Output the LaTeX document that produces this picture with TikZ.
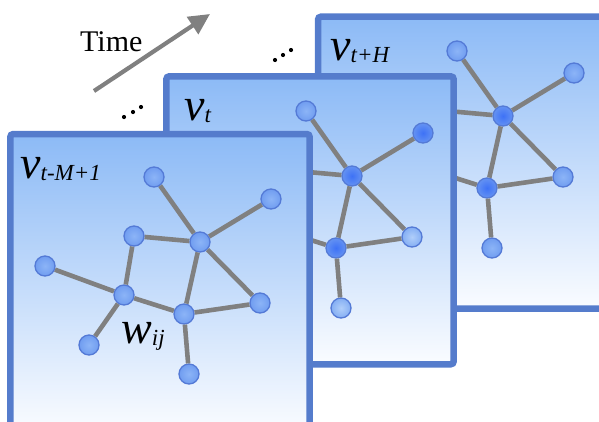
\documentclass[tikz,border=0pt]{standalone}
\usepackage{fontspec}
\setmainfont{Liberation Serif}
\usetikzlibrary{arrows.meta}

\definecolor{panTop}{RGB}{140,186,246}
\definecolor{panBot}{RGB}{250,252,255}
\definecolor{panEdge}{RGB}{85,124,204}
\definecolor{linkGray}{RGB}{128,128,128}
\definecolor{dotEdge}{RGB}{84,122,214}
\definecolor{leafIn}{RGB}{140,180,247}
\definecolor{leafOut}{RGB}{112,157,240}
\definecolor{hubIn}{RGB}{62,114,246}
\definecolor{hubOut}{RGB}{100,146,242}
\definecolor{paleIn}{RGB}{176,206,250}
\definecolor{paleOut}{RGB}{132,174,243}

\begin{document}
\begin{tikzpicture}[x=1pt,y=-1pt,
  panel/.style={draw=panEdge,line width=6.5pt,rounded corners=3pt,top color=panTop,bottom color=panBot},
  link/.style={draw=linkGray,line width=4.6pt},
  leaf/.style={circle,draw=dotEdge,line width=1.3pt,minimum size=20pt,inner sep=0pt,inner color=leafIn,outer color=leafOut},
  hub/.style={leaf,inner color=hubIn,outer color=hubOut},
  pale/.style={leaf,inner color=paleIn,outer color=paleOut},
  lbl/.style={font=\fontsize{46}{46}\selectfont\itshape,inner sep=0pt,anchor=base west}]
\useasboundingbox (0,0) rectangle (599,421);
\clip (0,0) rectangle (599,421);

% time arrow
\coordinate (tfrom) at (94,91);
\coordinate (tto) at (210,14);
\draw[linkGray,line width=4.2pt,-{Triangle[length=21pt,width=20pt]}] (tfrom) -- (tto);
\node[font=\fontsize{30}{30}\selectfont,inner sep=0pt,anchor=base west] (time) at (80,51) {Time};
\fill (124,117) circle (2.1);
\fill (133,112) circle (2.1);
\fill (141,107) circle (2.1);
\fill (275,60) circle (2.1);
\fill (283,55) circle (2.1);
\fill (291,50) circle (2.1);

% back panel
\draw[panel] (318,16.7) rectangle (640,308.7);
\begin{scope}[name prefix=bk-]
\node[leaf] (n1) at (457,51) {};
\node[leaf] (n2) at (574,73) {};
\node[hub] (A) at (503,116) {};
\node[leaf] (n3) at (437,110) {};
\node[leaf] (n4) at (348,140) {};
\node[leaf] (B) at (427,169) {};
\node[hub] (C) at (487,188) {};
\node[leaf] (n5) at (563,177) {};
\node[leaf] (n6) at (392,219) {};
\node[leaf] (n7) at (492,248) {};
\draw[link] (n1) -- (A);
\draw[link] (n2) -- (A);
\draw[link] (n3) -- (A);
\draw[link] (A) -- (C);
\draw[link] (A) -- (n5);
\draw[link] (n3) -- (B);
\draw[link] (n4) -- (B);
\draw[link] (B) -- (C);
\draw[link] (B) -- (n6);
\draw[link] (C) -- (n5);
\draw[link] (C) -- (n7);
\end{scope}
\node[lbl] (vback) at (330,60) {v\raisebox{-2pt}{\fontsize{23}{23}\selectfont t+H}};

% middle panel
\draw[panel] (166.3,76.3) rectangle (453.7,364.3);
\begin{scope}[name prefix=md-]
\node[leaf] (n1) at (306,111) {};
\node[hub] (n2) at (423,133) {};
\node[hub] (A) at (352,176) {};
\node[leaf] (n3) at (286,170) {};
\node[leaf] (n4) at (197,200) {};
\node[leaf] (B) at (276,229) {};
\node[hub] (C) at (336,248) {};
\node[pale] (n5) at (412,237) {};
\node[leaf] (n6) at (241,279) {};
\node[pale] (n7) at (341,308) {};
\draw[link] (n1) -- (A);
\draw[link] (n2) -- (A);
\draw[link] (n3) -- (A);
\draw[link] (A) -- (C);
\draw[link] (A) -- (n5);
\draw[link] (n3) -- (B);
\draw[link] (n4) -- (B);
\draw[link] (B) -- (C);
\draw[link] (B) -- (n6);
\draw[link] (C) -- (n5);
\draw[link] (C) -- (n7);
\end{scope}
\node[lbl] (vmid) at (184,120) {v\raisebox{-2pt}{\fontsize{23}{23}\selectfont t}};

% front panel
\draw[panel] (10.3,134) rectangle (309.7,432);
\begin{scope}[name prefix=fr-]
\node[leaf] (n1) at (154,177) {};
\node[leaf] (n2) at (271,199) {};
\node[leaf] (A) at (200,242) {};
\node[leaf] (n3) at (134,236) {};
\node[leaf] (n4) at (45,266) {};
\node[leaf] (B) at (124,295) {};
\node[leaf] (C) at (184,314) {};
\node[leaf] (n5) at (260,303) {};
\node[leaf] (n6) at (89,345) {};
\node[leaf] (n7) at (189,374) {};
\draw[link] (n1) -- (A);
\draw[link] (n2) -- (A);
\draw[link] (n3) -- (A);
\draw[link] (A) -- (C);
\draw[link] (A) -- (n5);
\draw[link] (n3) -- (B);
\draw[link] (n4) -- (B);
\draw[link] (B) -- (C);
\draw[link] (B) -- (n6);
\draw[link] (C) -- (n5);
\draw[link] (C) -- (n7);
\end{scope}
\node[lbl] (vfront) at (20,178) {v\raisebox{-2pt}{\fontsize{23}{23}\selectfont t-M+1}};
\node[lbl] (wij) at (121,343) {w\raisebox{-2pt}{\fontsize{23}{23}\selectfont ij}};

\end{tikzpicture}
\end{document}
